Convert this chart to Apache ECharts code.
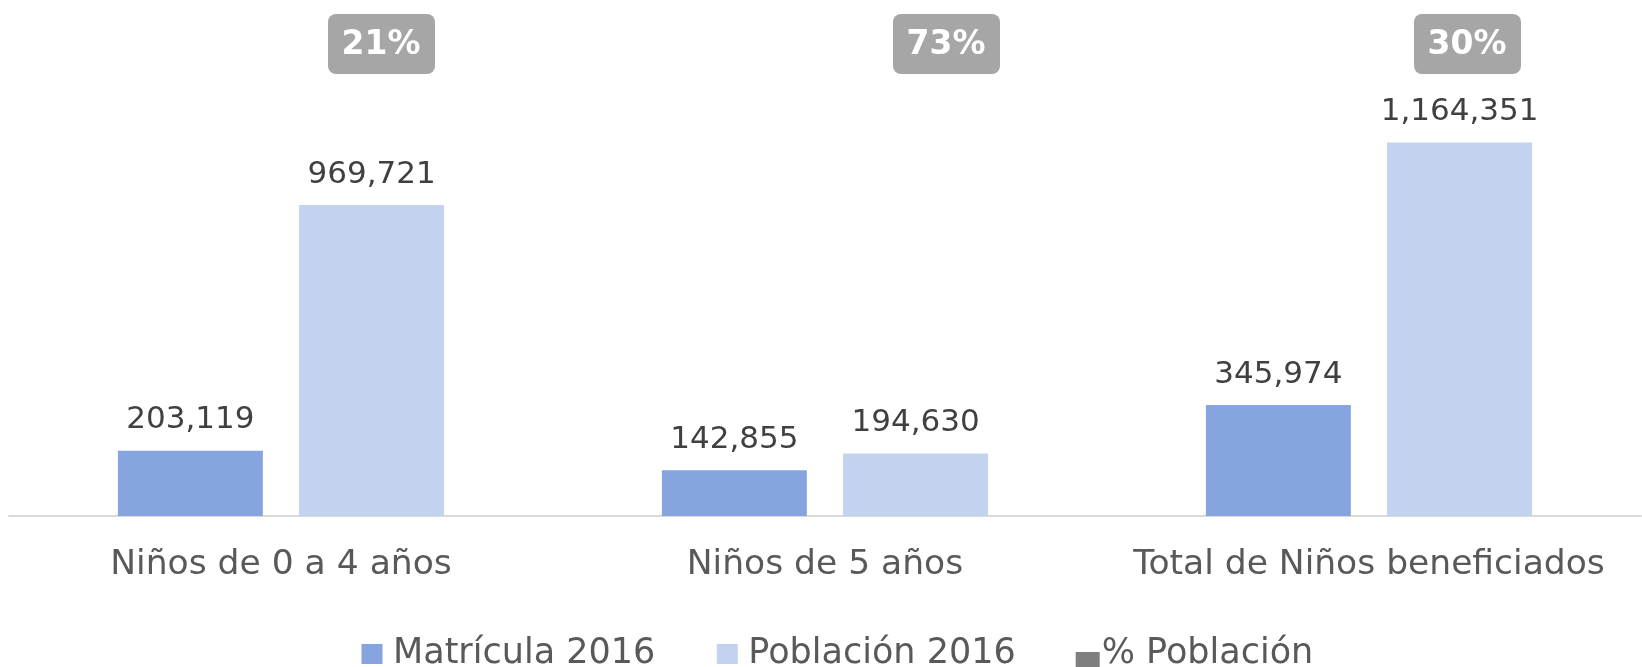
<!DOCTYPE html>
<html>
<head>
<meta charset="utf-8">
<title>Matrícula 2016</title>
<script src="https://cdn.jsdelivr.net/npm/echarts@6/dist/echarts.min.js"></script>
<style>
    html, body {margin: 0; padding: 0; background: #fff;}
    #chartDiv {width: 1642px; height: 667px;}
</style>
</head>
<body>
<div id="chartDiv"></div>
<script>
// 数据
var categories = ['Niños de 0 a 4 años', 'Niños de 5 años', 'Total de Niños beneficiados'];
var matricula = [203119, 142855, 345974];
var poblacion = [969721, 194630, 1164351];
var porcentaje = [21, 73, 30];

// 百分比标签相对类目中心的水平偏移
var badgeShift = [100, 121, 98];

var fontName = "'DejaVu Sans', sans-serif";
// 图例图标：四角各一个极小三角形，保证包围盒为 24x36
var iconFrame = 'M0,0 L0.01,0 L0,0.01 Z M24,36 L23.99,36 L24,35.99 Z ';
var iconHigh = 'path://' + iconFrame + 'M1.5,8 L22.5,8 L22.5,28 L1.5,28 Z';
var iconLow = 'path://' + iconFrame + 'M0,16 L24,16 L24,36 L0,36 Z';
var chartDiv;

window.onload = function () {
    chartDiv = echarts.init(document.getElementById('chartDiv'));
    var option = {
        animation: false,
        grid: {left: 9, right: 1, top: 67, bottom: 151},
        legend: {
            top: 631,
            left: 355,
            itemGap: 60,
            itemWidth: 24,
            itemHeight: 36,
            textStyle: {color: '#595959', fontSize: 35, lineHeight: 36, fontFamily: fontName},
            data: [
                {name: 'Matrícula 2016', icon: iconHigh, textStyle: {padding: [0, 0, 0, 4]}},
                {name: 'Población 2016', icon: iconHigh, textStyle: {padding: [0, 0, 0, 4]}},
                {name: '% Población', icon: iconLow, itemStyle: {color: '#7f7f7f'}, textStyle: {padding: [0, 0, 0, -3]}}
            ]
        },
        xAxis: {
            type: 'category',
            data: categories,
            axisTick: {show: false},
            axisLine: {lineStyle: {color: '#d9d9d9', width: 2}},
            axisLabel: {color: '#595959', fontSize: 34.5, fontFamily: fontName, margin: 32, interval: 0}
        },
        yAxis: {
            type: 'value',
            min: 0,
            max: 1400000,
            show: false,
            splitLine: {show: false}
        },
        series: [
            {
                name: 'Matrícula 2016',
                type: 'bar',
                data: matricula,
                barWidth: 145,
                barGap: '25%',
                itemStyle: {color: '#86A4DF'},
                label: barLabel()
            },
            {
                name: 'Población 2016',
                type: 'bar',
                data: poblacion,
                barWidth: 145,
                itemStyle: {color: '#C3D2EE'},
                label: barLabel()
            },
            {
                name: '% Población',
                type: 'custom',
                itemStyle: {color: '#a6a6a6'},
                data: porcentaje.map(function (v, i) { return [i, v]; }),
                renderItem: renderBadge
            }
        ]
    };
    chartDiv.setOption(option);
};

function barLabel() {
    return {
        show: true,
        position: 'top',
        distance: 15,
        color: '#404040',
        fontSize: 31,
        fontFamily: fontName,
        formatter: function (p) {
            return p.value.toLocaleString('en-US');
        }
    };
}

/*
* 百分比标签，画在图顶部
* */
function renderBadge(params, api) {
    var idx = api.value(0);
    var pt = api.coord([idx, 0]);
    var cx = pt[0] + badgeShift[idx];
    var cy = params.coordSys.y - 23;
    return {
        type: 'group',
        children: [
            {
                type: 'rect',
                shape: {x: cx - 53, y: cy - 30, width: 107, height: 60, r: 8},
                style: {fill: '#a6a6a6'}
            },
            {
                type: 'text',
                style: {
                    text: api.value(1) + '%',
                    x: cx,
                    y: cy + 1,
                    align: 'center',
                    verticalAlign: 'middle',
                    fill: '#ffffff',
                    font: 'bold 33px ' + fontName
                }
            }
        ]
    };
}
</script>
</body>
</html>
